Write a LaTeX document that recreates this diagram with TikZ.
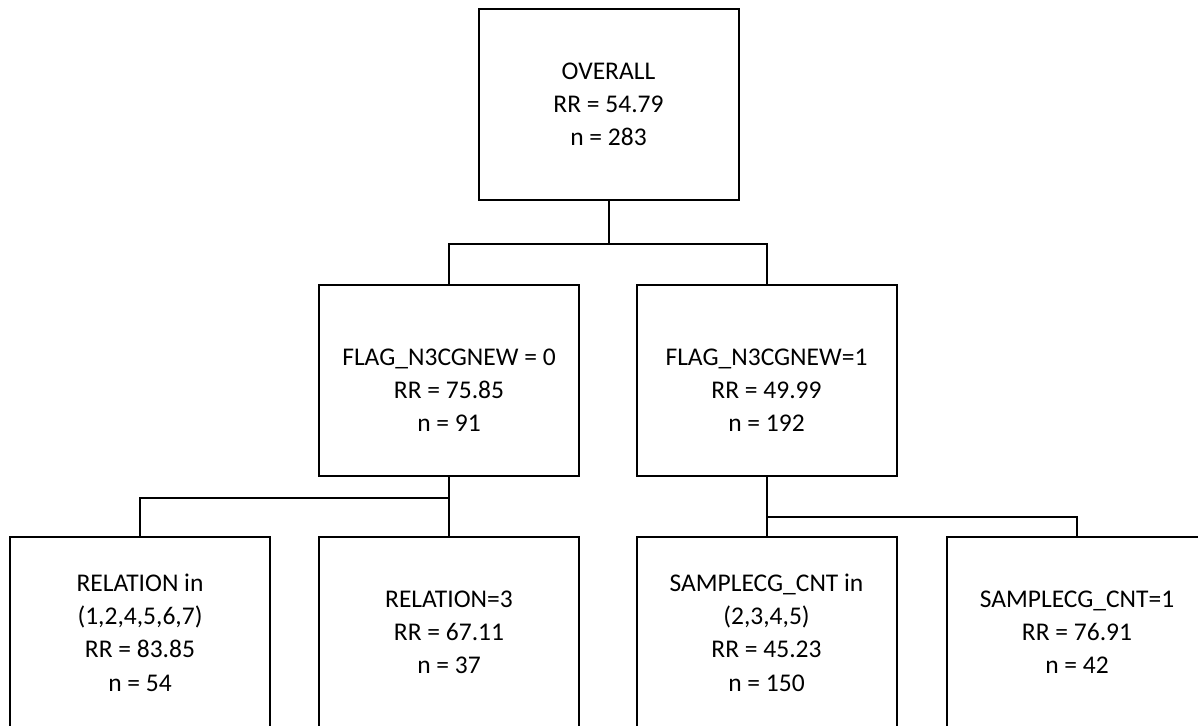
\documentclass[tikz,border=0pt]{standalone}
\usepackage{fontspec}
\setmainfont{Carlito}
\usetikzlibrary{positioning}

\begin{document}
\begin{tikzpicture}[x=0.5pt, y=-0.5pt]
    % Define styles
    \tikzstyle{split}=[rectangle, draw=black, line width=1pt, minimum width=130pt, minimum height=95.5pt, align=center, font=\fontsize{12.75}{16.6}\selectfont]
    \tikzstyle{branch}=[line width=1pt]

    \clip (0,0) rectangle (1198,725);

    % Root
    \node[split] (overall) at (608.5,104.5) {OVERALL\\RR = 54.79\\n = 283};

    % First split
    \node[split] (flagzero) at (449,380.5) {\rule{0pt}{18pt}FLAG\_N3CGNEW = 0\\RR = 75.85\\n = 91};
    \node[split] (flagone) at (766.5,380.5) {\rule{0pt}{18pt}FLAG\_N3CGNEW=1\\RR = 49.99\\n = 192};

    % Second split
    \node[split] (relin) at (140,632.5) {RELATION in\\(1,2,4,5,6,7)\\RR = 83.85\\n = 54};
    \node[split] (relthree) at (449,632.5) {RELATION=3\\RR = 67.11\\n = 37};
    \node[split] (samplein) at (766.5,632.5) {SAMPLECG\_CNT in\\(2,3,4,5)\\RR = 45.23\\n = 150};
    \node[split] (sampleone) at (1077,632.5) {SAMPLECG\_CNT=1\\RR = 76.91\\n = 42};

    % Connections
    \draw[branch] (overall.south) -- ++(0,43) -| (flagzero.north);
    \draw[branch] (overall.south) -- ++(0,43) -| (flagone.north);
    \draw[branch] (flagzero.south) -- ++(0,21) -| (relin.north);
    \draw[branch] (flagzero.south) -- (relthree.north);
    \draw[branch] (flagone.south) -- ++(0,40) -| (sampleone.north);
    \draw[branch] (flagone.south) -- (samplein.north);
\end{tikzpicture}
\end{document}
